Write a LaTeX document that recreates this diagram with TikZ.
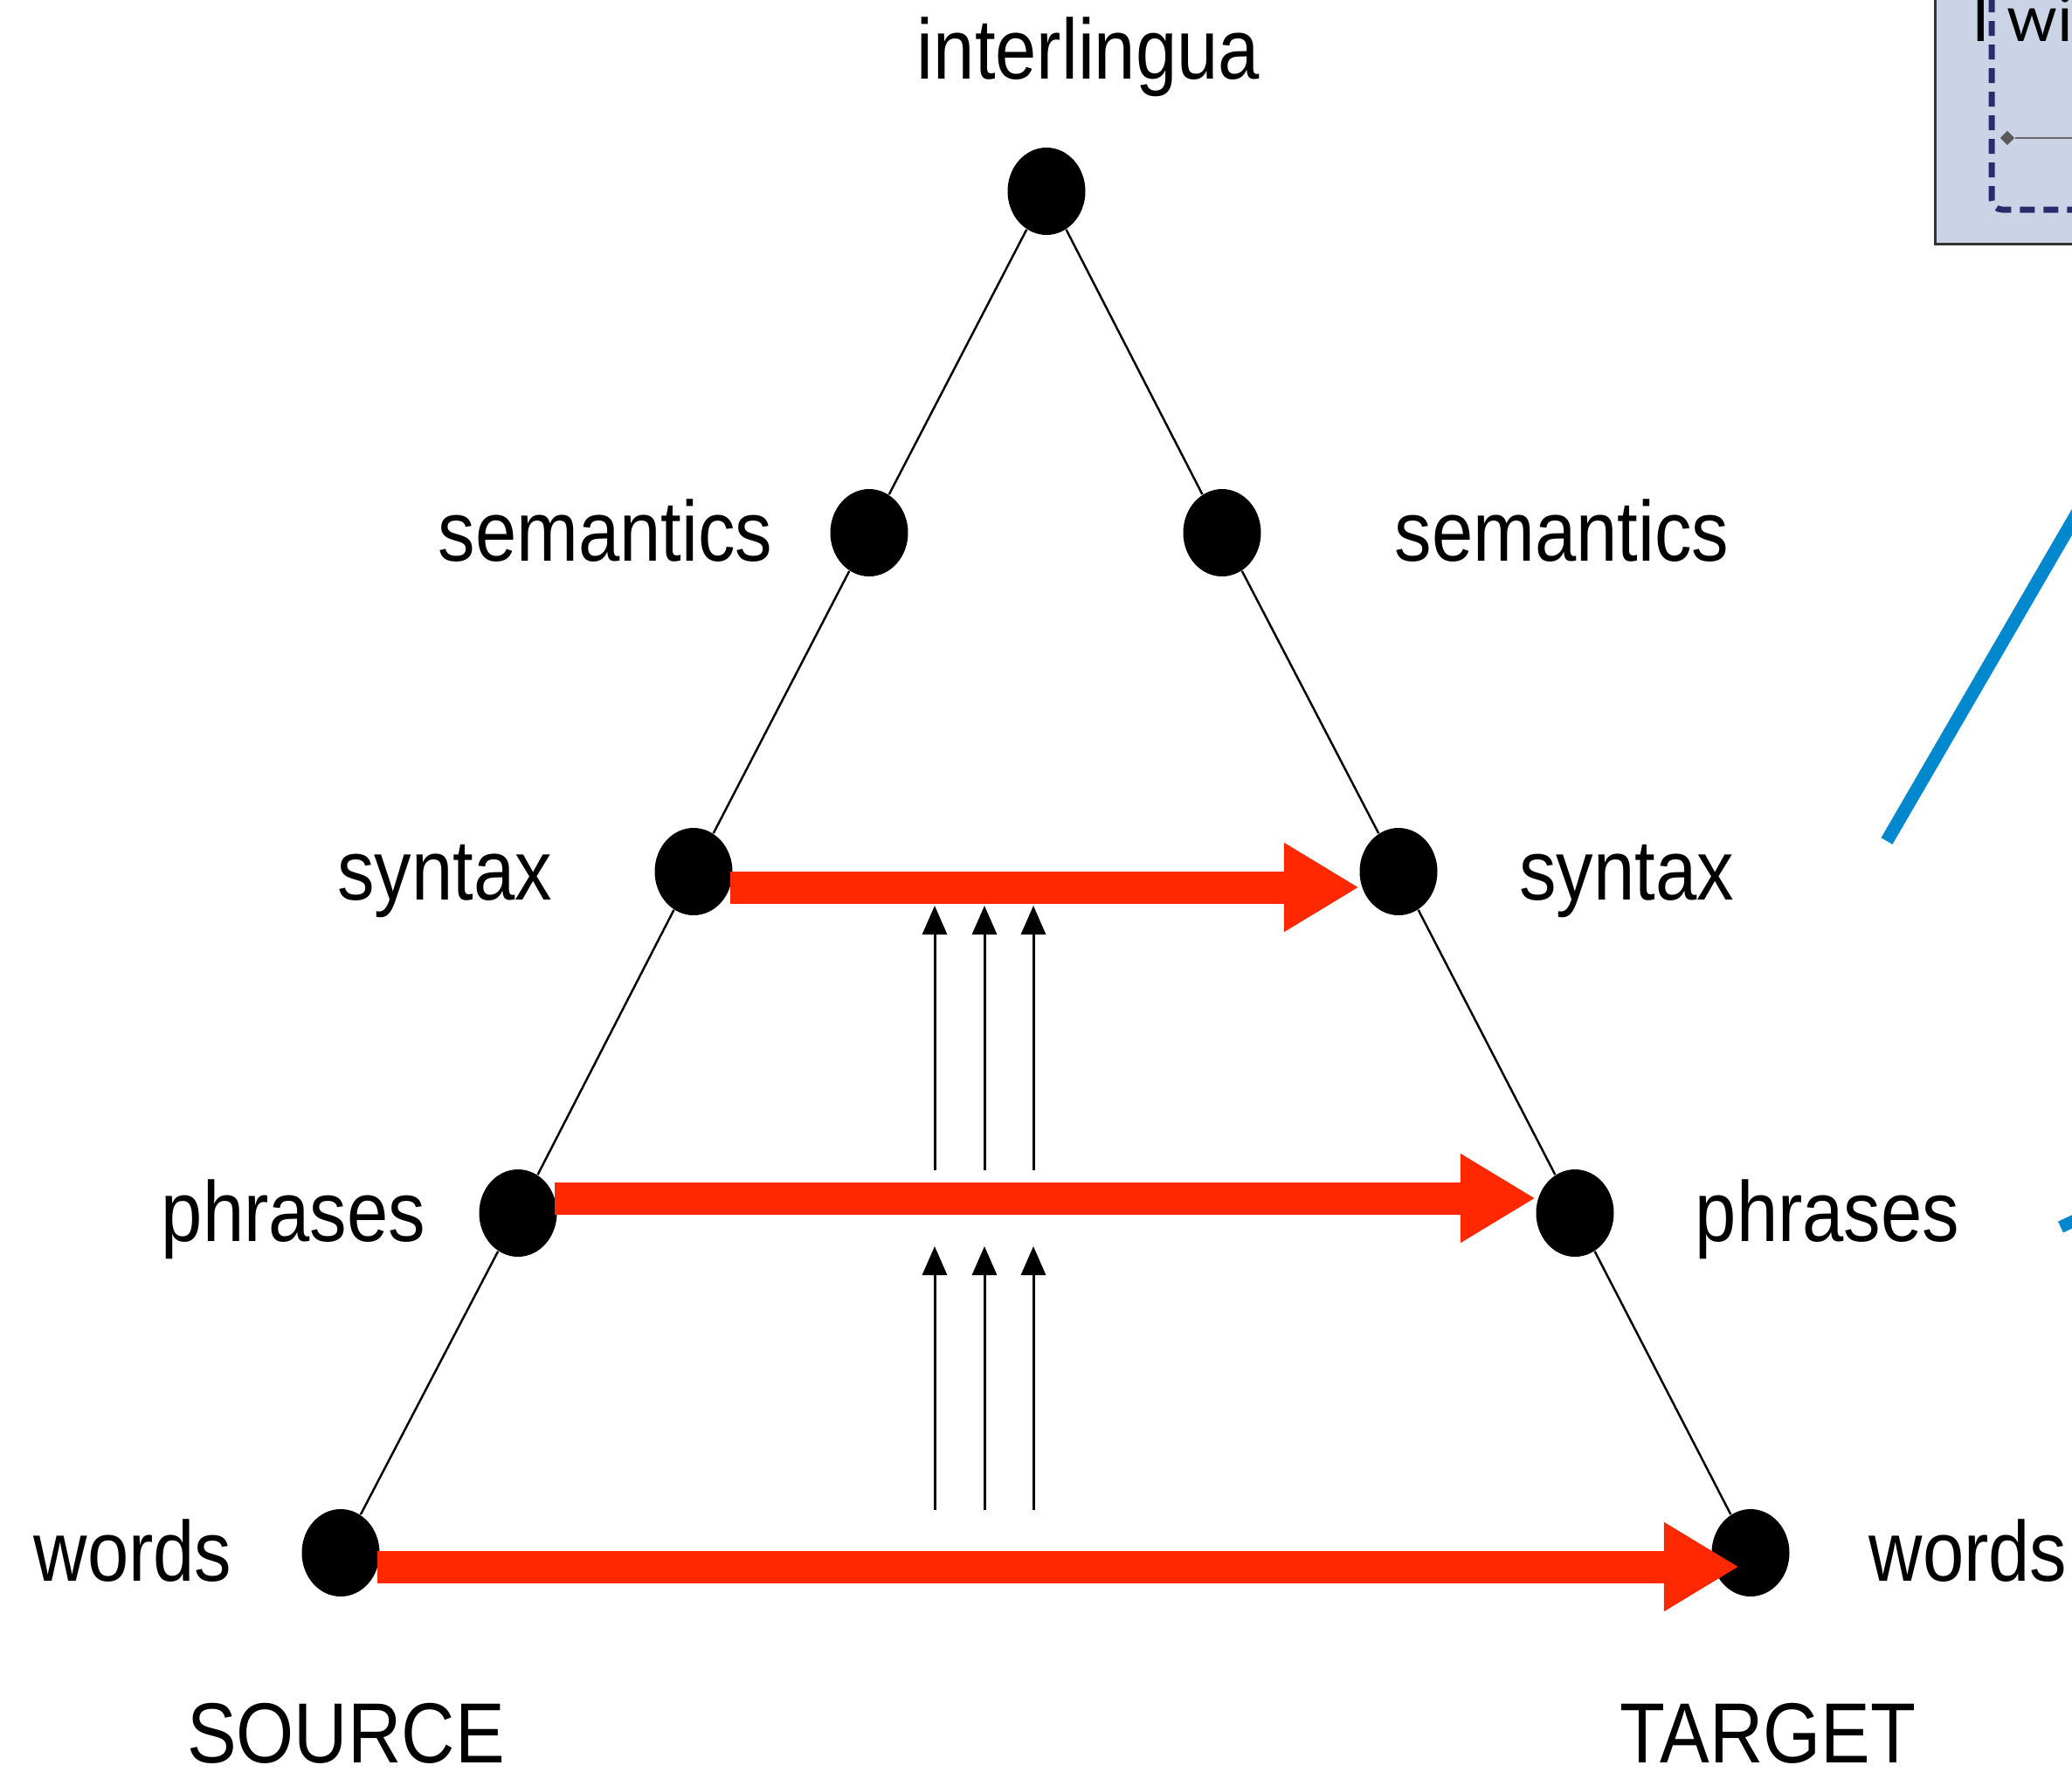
\documentclass[tikz,border=0pt]{standalone}
\usepackage{fontspec}
\setmainfont{Liberation Sans}[FakeStretch=0.87]
\newfontfamily\boxfont{Lato}
\usepackage{tikz}
\usetikzlibrary{shapes,arrows.meta,positioning,calc}
\usepackage{xcolor}
\definecolor{transred}{HTML}{FF2800}
\definecolor{linkblue}{HTML}{0088CE}
\definecolor{boxfill}{HTML}{CAD4E6}
\definecolor{boxdash}{HTML}{2B2A6B}

\tikzset{
  lvldot/.style={ellipse,fill=black,inner sep=0pt,minimum width=0.89cm,minimum height=1cm},
  lvltext/.style={font=\fontsize{27.8}{33}\selectfont,anchor=base,inner sep=0pt},
  transfer/.style={transred,line width=0.37cm,-{Triangle[length=0.86cm,width=0.96cm]}},
  lift/.style={black,line width=0.85pt,-{Triangle[length=0.33cm,width=0.28cm]}},
}

\begin{document}
\begin{tikzpicture}
            \useasboundingbox (0,0) rectangle (23.72,-20.29);

            % Corner of the next slide
            \fill[boxfill,draw=black!80,line width=0.03cm] (22.15,-2.79) rectangle (24.6,0.5);
            \node[font=\boxfont\fontsize{21}{25}\selectfont,anchor=base west,inner sep=0pt] (boxtitle) at (22.57,-0.47) {I wi};
            \draw[boxdash,line width=0.07cm,dash pattern=on 0.17cm off 0.1cm,rounded corners=0.12cm]
                (22.80,0.3) -- (22.80,-2.40) -- (24.6,-2.40);
            \node[diamond,fill=black!65,inner sep=0pt,minimum size=0.17cm] (pin) at (22.98,-1.58) {};
            \coordinate (pinend) at (24.6,-1.58);
            \draw[black!60,line width=0.6pt] (pin) -- (pinend);

            % Blue strokes
            \coordinate (bluefoot) at (21.60,-9.63);
            \coordinate (bluehead) at (24.20,-5.15);
            \draw[linkblue,line width=0.15cm] (bluefoot) -- (bluehead);
            \coordinate (stubfoot) at (23.59,-14.05);
            \coordinate (stubhead) at (24.60,-13.58);
            \draw[linkblue,line width=0.14cm] (stubfoot) -- (stubhead);

            % Levels of the pyramid
            \node[lvldot] (top) at (11.98,-2.19) {};
            \node[lvldot] (semL) at (9.95,-6.10) {};
            \node[lvldot] (semR) at (13.99,-6.10) {};
            \node[lvldot] (synL) at (7.94,-9.98) {};
            \node[lvldot] (synR) at (16.01,-9.98) {};
            \node[lvldot] (phrL) at (5.93,-13.89) {};
            \node[lvldot] (phrR) at (18.03,-13.89) {};
            \node[lvldot] (wrdL) at (3.90,-17.78) {};
            \node[lvldot] (wrdR) at (20.04,-17.78) {};

            % Sides
            \draw[line width=0.7pt] (top) -- (semL) -- (synL) -- (phrL) -- (wrdL);
            \draw[line width=0.7pt] (top) -- (semR) -- (synR) -- (phrR) -- (wrdR);

            % Transfer arrows
            \draw[transfer] ([xshift=-1pt,yshift=-0.18cm]synL.east) -- ([yshift=-0.18cm]synR.west);
            \draw[transfer] ([xshift=-1pt,yshift=0.17cm]phrL.east) -- ([yshift=0.17cm]phrR.west);
            \draw[transfer] ([xshift=-1pt,yshift=-0.16cm]wrdL.east) -- ([xshift=0.32cm,yshift=-0.16cm]wrdR.west);

            % Upward arrows
            \foreach \x [count=\i] in {10.70,11.27,11.83} {
                \coordinate (lowfoot\i) at (\x,-17.29);
                \coordinate (lowtip\i) at (\x,-14.27);
                \coordinate (upfoot\i) at (\x,-13.40);
                \coordinate (uptip\i) at (\x,-10.37);
                \draw[lift] (lowfoot\i) -- (lowtip\i);
                \draw[lift] (upfoot\i) -- (uptip\i);
            }

            % Labels
            \node[lvltext] (interlingua) at (12.46,-0.90) {interlingua};
            \node[lvltext] (semLtext) at (6.93,-6.42) {semantics};
            \node[lvltext] (semRtext) at (17.88,-6.42) {semantics};
            \node[lvltext] (synLtext) at (5.09,-10.30) {syntax};
            \node[lvltext] (synRtext) at (18.62,-10.30) {syntax};
            \node[lvltext] (phrLtext) at (3.36,-14.21) {phrases};
            \node[lvltext] (phrRtext) at (20.92,-14.21) {phrases};
            \node[lvltext] (wrdLtext) at (1.52,-18.10) {words};
            \node[lvltext] (wrdRtext) at (22.53,-18.10) {words};
            \node[lvltext] (source) at (3.96,-20.18) {SOURCE};
            \node[lvltext] (target) at (20.24,-20.18) {TARGET};
        \end{tikzpicture}
\end{document}
